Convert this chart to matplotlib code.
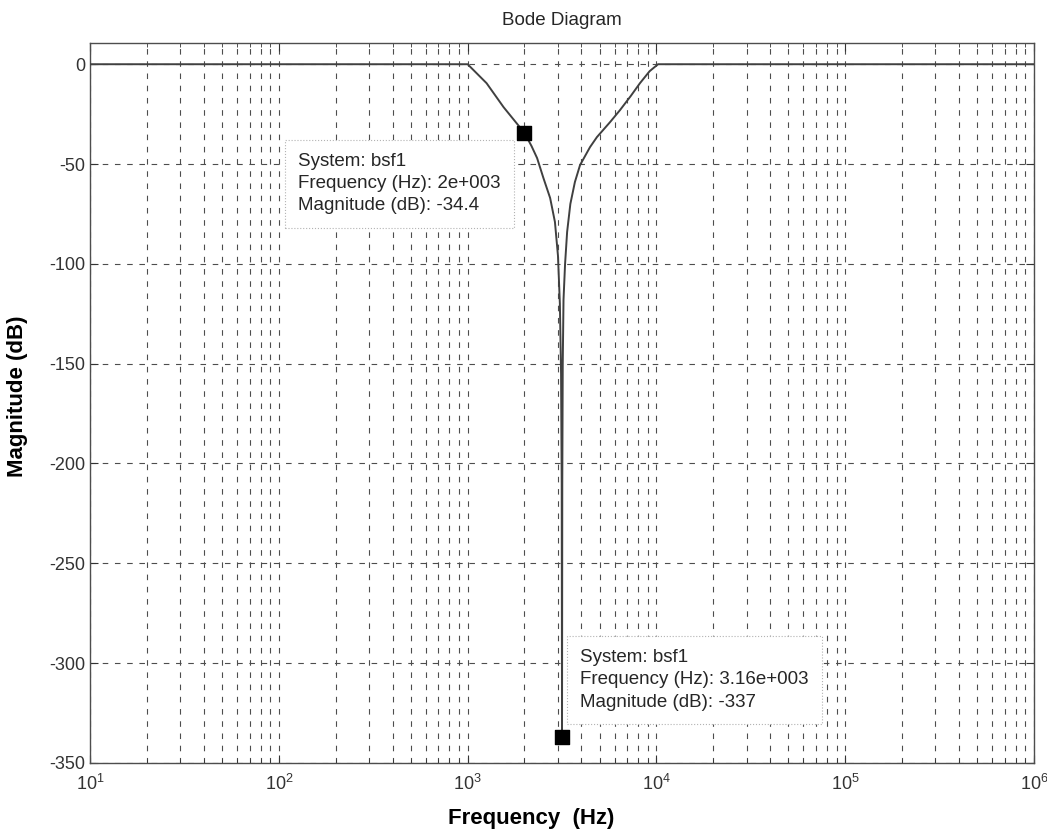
import numpy as np
import matplotlib
matplotlib.use("Agg")
import matplotlib.pyplot as plt
from matplotlib.ticker import LogLocator, FixedLocator

plt.rcParams["font.family"] = ["Liberation Sans", "DejaVu Sans"]
plt.rcParams["mathtext.fontset"] = "custom"
plt.rcParams["mathtext.rm"] = "Liberation Sans"
plt.rcParams["mathtext.it"] = "Liberation Sans"
plt.rcParams["axes.unicode_minus"] = False

# magnitude response of bsf1
freq_hz = [10, 100, 1000, 1260, 1550, 1780, 2000, 2180, 2333, 2520, 2735, 2900, 3010,
           3080, 3125, 3150, 3162, 3172, 3190, 3220, 3282, 3365, 3500, 3700, 3940,
           4450, 4840, 5680, 6410, 7300, 8180, 9200, 10200, 100000, 1000000]
mag_db = [0, 0, 0, -9.5, -21.5, -28.5, -34.4, -41, -47, -57, -67, -79, -96,
          -120, -155, -210, -337, -210, -150, -118, -100, -84, -70, -59, -50.5,
          -41.5, -36.5, -29, -23, -16, -9.5, -3.5, 0, 0, 0]

# data tips
tip_freq = [2000, 3160]
tip_mag = [-34.4, -337]
tip_text = ["System: bsf1\nFrequency (Hz): 2e+003\nMagnitude (dB): -34.4",
            "System: bsf1\nFrequency (Hz): 3.16e+003\nMagnitude (dB): -337"]

y_ticks = [0, -50, -100, -150, -200, -250, -300, -350]

fig = plt.figure(figsize=(10.47, 8.32), dpi=100)
ax = fig.add_axes([0.086, 0.083, 0.9016, 0.865])

ax.plot(freq_hz, mag_db, color="0.25", lw=1.4, zorder=3)
ax.set_xscale("log")
ax.set_xlim(10, 1e6)
ax.set_ylim(-350, 10.5)
ax.yaxis.set_major_locator(FixedLocator(y_ticks))
ax.xaxis.set_major_locator(LogLocator(base=10, numticks=10))
ax.xaxis.set_minor_locator(LogLocator(base=10, subs=np.arange(2, 10), numticks=50))

grid_kw = dict(color="0.3", lw=0.8, linestyle=(0, (5, 6)))
ax.grid(True, which="major", axis="both", **grid_kw)
ax.grid(True, which="minor", axis="x", **grid_kw)

ax.tick_params(which="both", direction="in", top=True, right=True,
               labelsize=13, colors="0.2")
ax.tick_params(which="major", length=6)
ax.tick_params(which="minor", length=3)
ax.tick_params(axis="x", which="major", pad=8)
for sp in ax.spines.values():
    sp.set_color("0.3")
    sp.set_linewidth(1.0)

# data tip boxes (white, faint dotted border) and markers
ax.scatter(tip_freq, tip_mag, marker="s", s=90, color="black", zorder=5, clip_on=False)
box = dict(boxstyle="square,pad=0.7", fc="white", ec="0.7", ls=":", lw=0.8)
ax.text(126.5, -44.5, tip_text[0], fontsize=13.5, color="0.15", linespacing=1.4,
        va="top", ha="left", bbox=box, zorder=4)
ax.text(3936, -293, tip_text[1], fontsize=13.5, color="0.15", linespacing=1.4,
        va="top", ha="left", bbox=box, zorder=4)

ax.set_title("Bode Diagram", fontsize=13.5, color="0.15", pad=13)
ax.set_xlabel("Frequency  (Hz)", fontsize=16, fontweight="bold")
ax.set_ylabel("Magnitude (dB)", fontsize=16, fontweight="bold")
ax.xaxis.set_label_coords(0.467, -0.062)
ax.yaxis.set_label_coords(-0.066, 0.51)

fig.savefig("out.png", dpi=100)
